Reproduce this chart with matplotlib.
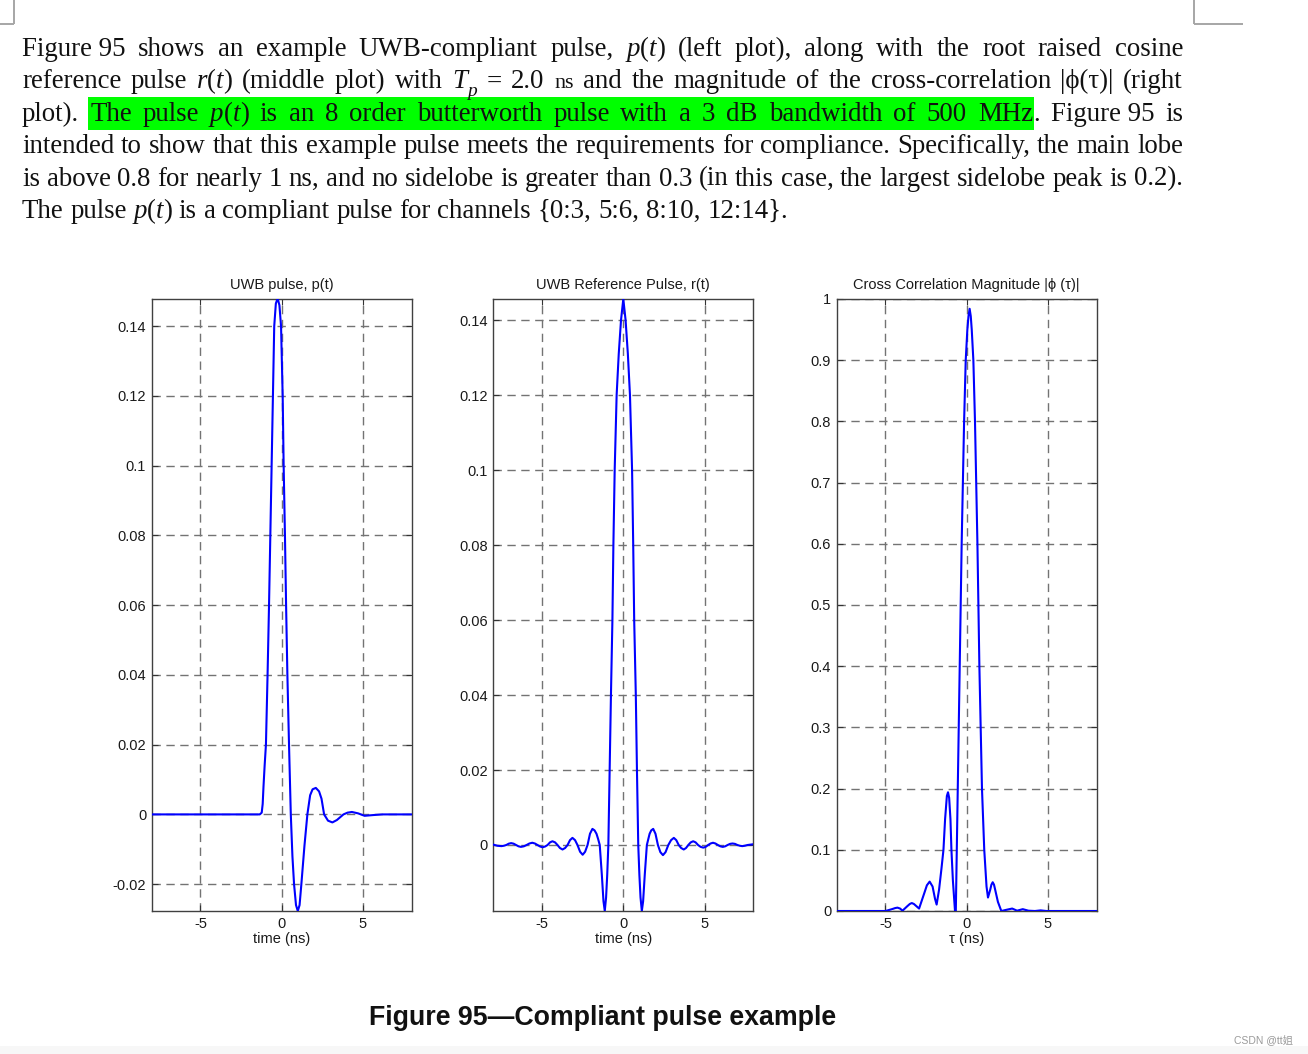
import matplotlib
matplotlib.use('Agg')
import matplotlib.pyplot as plt
from matplotlib.patches import Rectangle

# ---------------- data ----------------
p_t = [-8.0, -1.35, -1.23, -1.17, -1.12, -1.05, -0.97, -0.87, -0.78, -0.70, -0.62, -0.54, -0.46,
       -0.36, -0.25, -0.14, -0.04, 0.06, 0.12, 0.20, 0.27, 0.35, 0.45, 0.56, 0.66, 0.76, 0.88,
       0.99, 1.10, 1.21, 1.40, 1.58, 1.75, 1.90, 2.10, 2.30, 2.45, 2.61, 2.85, 3.12, 3.40, 3.80,
       4.05, 4.32, 4.70, 5.10, 5.60, 6.20, 8.0]
p_v = [0.0, 0.0, 0.0005, 0.003, 0.008, 0.014, 0.02, 0.04, 0.06, 0.08, 0.10, 0.12, 0.14,
       0.1465, 0.148, 0.146, 0.14, 0.12, 0.10, 0.08, 0.06, 0.04, 0.02, 0.0, -0.012, -0.02, -0.026,
       -0.0277, -0.026, -0.02, -0.009, 0.0, 0.0055, 0.0072, 0.0076, 0.0066, 0.0045, 0.0, -0.0018,
       -0.0023, -0.0016, 0.0, 0.0005, 0.0007, 0.0003, -0.0004, -0.0002, 0.0, 0.0]

r_t = [-8.0, -7.75, -7.5, -7.35, -7.2, -7.05, -6.9, -6.75, -6.6, -6.45, -6.3, -6.12, -5.95,
       -5.78, -5.6, -5.44, -5.28, -5.12, -4.97, -4.81, -4.66, -4.51, -4.36, -4.2, -4.05, -3.9,
       -3.74, -3.58, -3.43, -3.28, -3.13, -2.97, -2.82, -2.66, -2.5, -2.35, -2.2, -2.05, -1.9,
       -1.77, -1.65, -1.55, -1.45, -1.32, -1.22, -1.14, -1.06, -0.99, -0.92, -0.84, -0.76,
       -0.67, -0.61, -0.53, -0.41, -0.28, -0.14, 0.0, 0.14, 0.28, 0.41, 0.54, 0.61, 0.67, 0.77,
       0.84, 0.92, 0.99, 1.06, 1.14, 1.22, 1.32, 1.45, 1.54, 1.62, 1.72, 1.84, 1.98, 2.13,
       2.28, 2.44, 2.6, 2.77, 2.94, 3.11, 3.26, 3.41, 3.56, 3.72, 3.86, 4.0, 4.15, 4.3, 4.45,
       4.6, 4.76, 4.92, 5.07, 5.22, 5.37, 5.52, 5.67, 5.82, 5.97, 6.12, 6.27, 6.42, 6.57,
       6.72, 6.87, 7.02, 7.17, 7.32, 7.48, 7.65, 8.0]
r_v = [0.0001, -0.0002, -0.0003, -0.0002, 0.0, 0.00035, 0.0005, 0.00035, 0.0, -0.00035,
       -0.0005, -0.00035, 0.0, 0.0004, 0.0006, 0.0004, 0.0, -0.0004, -0.0006, -0.0004, 0.0,
       0.0007, 0.001, 0.0007, 0.0, -0.0008, -0.0012, -0.0008, 0.0, 0.0013, 0.0019, 0.0013, 0.0,
       -0.0018, -0.0026, -0.0018, 0.0, 0.003, 0.0043, 0.0039, 0.003, 0.0016, 0.0, -0.008,
       -0.015, -0.0176, -0.014, -0.008, 0.0, 0.02, 0.04, 0.06, 0.08, 0.10, 0.12, 0.131, 0.14,
       0.1456, 0.14, 0.131, 0.12, 0.10, 0.08, 0.06, 0.04, 0.02, 0.0, -0.008, -0.014, -0.0176,
       -0.015, -0.008, 0.0, 0.0016, 0.003, 0.0039, 0.0043, 0.003, 0.0, -0.0019, -0.0027,
       -0.0019, 0.0, 0.0013, 0.0019, 0.0013, 0.0, -0.0008, -0.0012, -0.0008, 0.0, 0.0007,
       0.001, 0.0007, 0.0, -0.0005, -0.0007, -0.0005, 0.0, 0.0004, 0.0006, 0.0004, 0.0,
       -0.00035, -0.0005, -0.00035, 0.0, 0.0003, 0.0004, 0.0003, 0.0, -0.0002, -0.0003,
       -0.0002, 0.0, 0.0002]

c_t = [-8.0, -5.0, -4.6, -4.4, -4.26, -4.1, -3.95, -3.65, -3.5, -3.38, -3.25, -3.1, -2.93,
       -2.6, -2.45, -2.28, -2.1, -1.95, -1.85, -1.7, -1.55, -1.43, -1.33, -1.22, -1.15, -1.08,
       -1.0, -0.94, -0.85, -0.72, -0.67, -0.55, -0.43, -0.31, -0.16, -0.06, 0.04, 0.11, 0.18,
       0.25, 0.31, 0.41, 0.51, 0.66, 0.78, 0.94, 1.08, 1.22, 1.31, 1.45, 1.52, 1.60, 1.68,
       1.75, 1.92, 2.13, 2.45, 2.8, 3.1, 3.45, 3.8, 4.2, 4.55, 4.9, 8.0]
c_v = [0.0, 0.0, 0.003, 0.0048, 0.0055, 0.004, 0.0005, 0.008, 0.0115, 0.013, 0.0115, 0.008,
       0.004, 0.03, 0.042, 0.048, 0.04, 0.02, 0.0105, 0.035, 0.07, 0.10, 0.15, 0.188, 0.194,
       0.185, 0.15, 0.10, 0.05, 0.0, 0.0, 0.2, 0.4, 0.6, 0.8, 0.9, 0.95, 0.972, 0.984, 0.972,
       0.95, 0.9, 0.8, 0.6, 0.4, 0.2, 0.1, 0.04, 0.022, 0.035, 0.043, 0.047, 0.043, 0.035,
       0.015, 0.0, 0.002, 0.004, 0.0005, 0.003, 0.0005, 0.0, 0.001, 0.0, 0.0]

x_ticks = [-5, 0, 5]
x_ticklabels = ['-5', '0', '5']
p_yticks = [-0.02, 0, 0.02, 0.04, 0.06, 0.08, 0.10, 0.12, 0.14]
p_yticklabels = ['-0.02', '0', '0.02', '0.04', '0.06', '0.08', '0.1', '0.12', '0.14']
r_yticks = [0, 0.02, 0.04, 0.06, 0.08, 0.10, 0.12, 0.14]
r_yticklabels = ['0', '0.02', '0.04', '0.06', '0.08', '0.1', '0.12', '0.14']
c_yticks = [0, 0.1, 0.2, 0.3, 0.4, 0.5, 0.6, 0.7, 0.8, 0.9, 1.0]
c_yticklabels = ['0', '0.1', '0.2', '0.3', '0.4', '0.5', '0.6', '0.7', '0.8', '0.9', '1']

titles = ['UWB pulse, p(t)', 'UWB Reference Pulse, r(t)', 'Cross Correlation Magnitude |\u03d5 (\u03c4)|']
xlabels = ['time (ns)', 'time (ns)', '\u03c4 (ns)']
caption = 'Figure 95\u2014Compliant pulse example'
watermark = 'CSDN @tt\u59d0'

para_lines = [
    'Figure\u00a095 shows an example UWB-compliant pulse, *p*(*t*) (left plot), along with the root raised cosine',
    'reference pulse *r*(*t*) (middle plot) with *T*~p~ = 2.0 ^ns^ and the magnitude of the cross-correlation |\u03d5(\u03c4)| (right',
    'plot). #The pulse *p*(*t*) is an 8 order butterworth pulse with a 3 dB bandwidth of 500 MHz#. Figure\u00a095 is',
    'intended to show that this example pulse meets the requirements for compliance. Specifically, the main lobe',
    'is above 0.8 for nearly 1 ns, and no sidelobe is greater than 0.3 (in this case, the largest sidelobe peak is 0.2).',
    'The pulse *p*(*t*) is a compliant pulse for channels {0:3, 5:6, 8:10, 12:14}.',
]
justify = [True, True, True, True, True, False]

# ---------------- figure ----------------
W, H = 1308, 1054
fig = plt.figure(figsize=(W / 100, H / 100), dpi=100)
fig.patch.set_facecolor('white')
ov = fig.add_axes([0, 0, 1, 1], zorder=0)
ov.set_xlim(0, W)
ov.set_ylim(H, 0)
ov.axis('off')
renderer = fig.canvas.get_renderer()

# page corner marks
mk = dict(color='#a6a6a6', lw=1.4, solid_capstyle='butt')
ov.plot([14, 14], [0, 24], **mk)
ov.plot([0, 14], [24, 24], **mk)
ov.plot([1194, 1194], [0, 24], **mk)
ov.plot([1194, 1243], [24, 24], **mk)
ov.add_patch(Rectangle((0, 1046), W, 8, color='#f7f7f7', lw=0))

SERIF = ['Liberation Serif', 'DejaVu Serif']
SANS = ['Liberation Sans', 'DejaVu Sans']


def parse_word(word):
    runs = []
    cur = ''
    ital = sub = small = False
    for ch in word:
        if ch in '*~^#':
            if cur:
                runs.append(('t', cur, ital, sub, small))
                cur = ''
            if ch == '*':
                ital = not ital
            elif ch == '~':
                sub = not sub
            elif ch == '^':
                small = not small
            else:
                runs.append(('hl',))
        else:
            cur += ch
    if cur:
        runs.append(('t', cur, ital, sub, small))
    return runs


def run_props(run, size):
    _, txt, ital, sub, small = run
    sz = size
    style = 'normal'
    dy = 0.0
    if ital:
        style = 'italic'
    if sub:
        style = 'italic'
        sz = size * 0.72
        dy = size * 100 / 72 * 0.28
    if small:
        sz = size * 0.82
    return txt, sz, style, dy


def measure(txt, sz, style):
    t = ov.text(0, 0, txt, fontsize=sz, family=SERIF, style=style)
    w = t.get_window_extent(renderer).width
    t.remove()
    return w


def word_width(runs, size):
    w = 0
    for r in runs:
        if r[0] == 't':
            txt, sz, style, dy = run_props(r, size)
            w += measure(txt, sz, style)
    return w


def layout_line(line, size):
    words = [parse_word(w) for w in line.split(' ')]
    widths = [word_width(w, size) for w in words]
    return words, widths


X0, X1 = 22, 1183
base = 16.0
words6, widths6 = layout_line(para_lines[5], base)
nat = sum(widths6) + 0.25 * base * 100 / 72 * (len(widths6) - 1)
fsize = base * (790 - X0) / nat

baselines = [56, 88.5, 121, 153.3, 185.6, 218]
for line, just, yb in zip(para_lines, justify, baselines):
    words, widths = layout_line(line, fsize)
    if just:
        gap = (X1 - X0 - sum(widths)) / (len(words) - 1)
    else:
        gap = 0.25 * fsize * 100 / 72
    x = X0
    hl = []
    for wruns, ww in zip(words, widths):
        for r in wruns:
            if r[0] == 'hl':
                hl.append(x)
                continue
            txt, sz, style, dy = run_props(r, fsize)
            ov.text(x, yb + dy, txt, fontsize=sz, family=SERIF, style=style,
                    va='baseline', ha='left', color='#111111', zorder=3)
            x += measure(txt, sz, style)
        x += gap
    if len(hl) == 2:
        px = fsize * 100 / 72
        ov.add_patch(Rectangle((hl[0] - 2, yb - 0.90 * px), hl[1] - hl[0] + 3, 1.25 * px,
                               color='#00ff00', lw=0, zorder=2))

ov.text(603, 1018, caption, ha='center', va='center', fontsize=19.3, weight='bold',
        family=SANS, color='#111111')
ov.text(1234, 1040, watermark, ha='left', va='center', fontsize=7.5,
        family=['Liberation Sans', 'Noto Sans CJK SC'], color='#9a9a9a')

# ---------------- plots ----------------
bottom = 1 - 911 / H
height = 612 / H
lefts = [151.7 / W, 493.3 / W, 836.7 / W]
width = 260 / W

series = [(p_t, p_v), (r_t, r_v), (c_t, c_v)]
ylims = [(-0.0277, 0.1478), (-0.0176, 0.1456), (0, 1)]
yticks = [p_yticks, r_yticks, c_yticks]
yticklabels = [p_yticklabels, r_yticklabels, c_yticklabels]

for i in range(3):
    ax = fig.add_axes([lefts[i], bottom, width, height], zorder=5)
    x, y = series[i]
    ax.plot(x, y, color='#0000ff', lw=1.5, zorder=3, clip_on=True, solid_joinstyle='round')
    ax.set_xlim(-8, 8)
    ax.set_ylim(*ylims[i])
    ax.set_xticks(x_ticks)
    ax.set_xticklabels(x_ticklabels)
    ax.set_yticks(yticks[i])
    ax.set_yticklabels(yticklabels[i])
    ax.grid(True, color='#737373', lw=1.0, linestyle=(0, (6, 4)))
    ax.tick_params(direction='in', length=4, width=0.8, top=True, right=True,
                   labelsize=10.5, pad=4, colors='#333333', labelcolor='#1a1a1a')
    for sp in ax.spines.values():
        sp.set_color('#404040')
        sp.set_linewidth(1.0)
    for lab in ax.get_xticklabels() + ax.get_yticklabels():
        lab.set_family(SANS)
    ax.set_title(titles[i], fontsize=10.5, family=SANS, pad=7, color='#1a1a1a')
    ax.set_xlabel(xlabels[i], fontsize=10.5, family=SANS, labelpad=1, color='#1a1a1a')

fig.savefig('out.png', dpi=100, facecolor='white')
